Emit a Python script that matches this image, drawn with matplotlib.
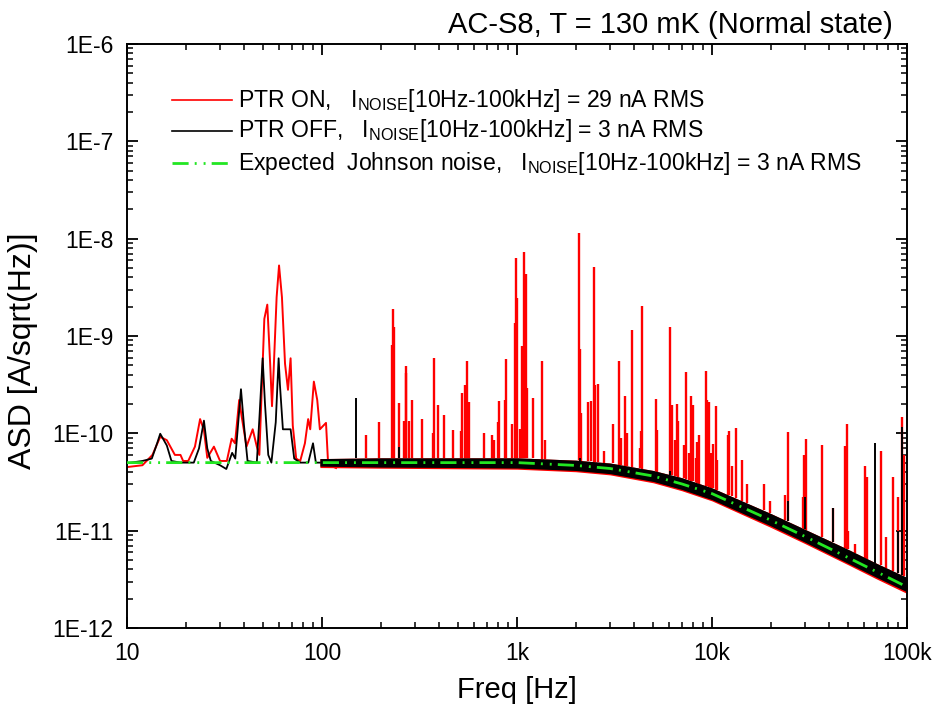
"""
ASD noise spectrum, AC-S8 at 130 mK (normal state): PTR on / off vs expected Johnson noise
"""

import numpy as np
import matplotlib
matplotlib.use("Agg")
import matplotlib.pyplot as plt
from matplotlib.ticker import LogLocator, FuncFormatter, NullFormatter

plt.rcParams["font.family"] = ["Liberation Sans", "DejaVu Sans"]
plt.rcParams["mathtext.fontset"] = "custom"
plt.rcParams["mathtext.rm"] = "Liberation Sans"
plt.rcParams["mathtext.it"] = "Liberation Sans"

# ─── Colours ──────────────────────────────────────────────
RED = "#ff0000"
BLACK = "#000000"
GREEN = "#22e622"

# ─── Data ─────────────────────────────────────────────────

# expected Johnson noise
johnson_f = [10, 100, 1000, 2000, 3000, 5000, 7000, 10000, 20000, 30000, 50000, 70000, 100000]
johnson_asd = [5.0e-11, 5.0e-11, 5.0e-11, 4.68e-11, 4.35e-11, 3.64e-11, 3.02e-11,
               2.4e-11, 1.28e-11, 8.7e-12, 5.27e-12, 3.77e-12, 2.64e-12]

# PTR ON, low frequency part
red_low_f = [10, 12, 13.5, 14.8, 16, 17.6, 18.8, 19.4, 20.6, 22.3, 23.7, 24.8, 25.8, 27.9,
             30, 32.5, 34.4, 35.8, 37.6, 38.7, 41, 44.1, 46.3, 47.7, 50.6, 52.4, 54.2, 55.4,
             56.5, 58.5, 60.2, 62.3, 64.6, 66.9, 69, 70.8, 73.7, 77.3, 81.7, 84.9, 87, 90.8,
             94.5, 97.5, 104.8, 107.5, 118]
red_low_asd = [4.5e-11, 4.7e-11, 6.0e-11, 9.2e-11, 8.5e-11, 6.0e-11, 6.0e-11, 5.2e-11,
               5.2e-11, 7.3e-11, 1.4e-10, 1.08e-10, 5.6e-11, 7.3e-11, 5.2e-11, 5.2e-11,
               8.8e-11, 7.9e-11, 2.2e-10, 1.5e-10, 7.3e-11, 1.1e-10, 7.3e-11, 6.0e-11,
               1.5e-9, 2.1e-9, 5.2e-10, 1.9e-10, 4.5e-10, 2.5e-9, 5.3e-9, 2.5e-9, 5.2e-10,
               2.8e-10, 5.9e-10, 1.2e-10, 5.5e-11, 5.2e-11, 7.9e-11, 1.4e-10, 1.1e-10,
               3.4e-10, 2.2e-10, 1.1e-10, 1.28e-10, 4.8e-11, 4.4e-11]

# PTR OFF, low frequency part
black_low_f = [10, 12, 13.4, 14.3, 14.8, 16.0, 16.9, 18.8, 22.0, 23.4, 24.8, 25.8, 26.9,
               30, 32.3, 34.6, 35.9, 38.4, 39.8, 41.5, 46.3, 47.8, 49.6, 51, 53, 55,
               57.9, 59.9, 60.8, 63, 67.2, 69, 72, 77.3, 85, 89.9, 93, 97.5]
black_low_asd = [4.93e-11, 5.2e-11, 5.5e-11, 8.0e-11, 9.9e-11, 7.5e-11, 5.2e-11, 5.0e-11,
                 5.0e-11, 7.0e-11, 1.35e-10, 7.0e-11, 5.2e-11, 4.7e-11, 4.3e-11, 6.3e-11,
                 5.5e-11, 2.84e-10, 1.2e-10, 5.2e-11, 5.0e-11, 1.5e-10, 5.9e-10, 2.0e-10,
                 6.0e-11, 5.0e-11, 1.3e-10, 5.9e-10, 3.2e-10, 1.1e-10, 1.1e-10, 1.1e-10,
                 5.5e-11, 5.0e-11, 5.0e-11, 7.9e-11, 5.0e-11, 5.0e-11]

# broadband noise envelope above ~100 Hz
band_f = [97.5, 200, 500, 1000, 2000, 3000, 5000, 7000, 10000, 20000, 30000, 50000,
          70000, 100000]
black_hi = [5.5e-11, 5.6e-11, 5.6e-11, 5.6e-11, 5.3e-11, 4.95e-11, 4.15e-11, 3.5e-11,
            2.75e-11, 1.5e-11, 1.03e-11, 6.4e-12, 4.6e-12, 3.3e-12]
black_lo = [4.6e-11, 4.5e-11, 4.45e-11, 4.4e-11, 4.15e-11, 3.85e-11, 3.2e-11, 2.65e-11,
            2.08e-11, 1.12e-11, 7.6e-12, 4.6e-12, 3.3e-12, 2.35e-12]
red_lo = [4.45e-11, 4.38e-11, 4.32e-11, 4.28e-11, 4.03e-11, 3.74e-11, 3.1e-11, 2.57e-11,
          2.02e-11, 1.08e-11, 7.35e-12, 4.45e-12, 3.18e-12, 2.26e-12]

# PTR ON lines above 100 Hz
red_spike_f = [169, 196, 228, 232, 235, 249, 264, 268, 271, 280, 288, 326, 372, 375, 392,
               421, 468, 515, 520, 543, 552, 568, 677, 745, 760, 802, 812, 871, 881, 940,
               972, 988, 1000, 1030, 1057, 1082, 1107, 1126, 1213, 1337, 1395, 2070, 2100,
               2130, 2323, 2388, 2472, 2520, 2616, 2805, 3090, 3320, 3400, 3580, 3650, 3875,
               4250, 4300, 4360, 5160, 5250, 6090, 6210, 6460, 6580, 6700, 7150, 7330, 7640,
               7770, 7950, 8230, 8400, 8600, 9270, 9450, 9630, 9900, 10100, 10450, 10600,
               12030, 12200, 12600, 13200, 14300, 15100, 18400, 19800, 23800, 24400, 29300,
               29600, 30200, 36500, 41600, 48000, 49000, 49900, 54000, 61000, 62400, 73300,
               78000, 85000, 90200, 94600, 97000]
red_spike_asd = [9.6e-11, 1.32e-10, 8.1e-10, 1.9e-9, 1.25e-9, 2.05e-10, 1.34e-10, 4.96e-10,
                 4.2e-10, 1.35e-10, 2.2e-10, 1.41e-10, 1.0e-10, 6.0e-10, 1.96e-10, 1.55e-10,
                 1.08e-10, 1.05e-10, 2.6e-10, 3.1e-10, 5.5e-10, 2.1e-10, 1.0e-10, 9.5e-11,
                 8.5e-11, 1.3e-10, 2.15e-10, 2.2e-10, 5.8e-10, 1.25e-10, 1.35e-9, 6.4e-9,
                 2.46e-9, 1.1e-10, 7.9e-10, 7.3e-9, 4.35e-9, 2.9e-10, 2.3e-10, 5.5e-10,
                 8.5e-11, 1.15e-8, 7.4e-10, 1.62e-10, 2.1e-10, 2.15e-10, 5.1e-9, 3.1e-10,
                 3.2e-10, 6.6e-11, 1.25e-10, 5.5e-10, 9.0e-11, 2.4e-10, 1.0e-10, 1.16e-9,
                 7.0e-11, 1.05e-10, 2.04e-9, 2.26e-10, 1.08e-10, 1.24e-9, 1.96e-10, 8.5e-11,
                 2.0e-10, 1.34e-10, 7.6e-11, 4.28e-10, 6.3e-11, 2.4e-10, 1.96e-10, 5.6e-11,
                 8.2e-11, 9.5e-11, 4.4e-10, 2.2e-10, 2.1e-10, 6.3e-11, 7.8e-11, 1.92e-10,
                 5.3e-11, 9.5e-11, 1.05e-10, 4.6e-11, 1.14e-10, 5.3e-11, 3.0e-11, 3.0e-11,
                 2.0e-11, 2.3e-11, 1.03e-10, 2.2e-11, 6.0e-11, 8.8e-11, 7.6e-11, 1.7e-11,
                 7.4e-11, 1.25e-10, 1.0e-11, 7.3e-12, 4.6e-11, 3.6e-11, 6.6e-11, 8.7e-12,
                 3.6e-11, 2.2e-11, 1.48e-10, 6.0e-11]

# PTR OFF lines above 100 Hz
black_spike_f = [150, 249, 2100, 6090, 24400, 30000, 41700, 68500, 90200, 93800]
black_spike_asd = [2.3e-10, 7.3e-11, 5.6e-11, 4.1e-11, 2.0e-11, 2.2e-11, 1.7e-11,
                   8.0e-11, 1.0e-11, 1.15e-10]


def _foot(freqs):
    """Level where a line leaves the broadband noise (on the log scale)."""
    return 10 ** np.interp(np.log10(freqs), np.log10(band_f), np.log10(black_hi))


def _fmt_x(v, _):
    labels = {10: "10", 100: "100", 1000: "1k", 10000: "10k", 100000: "100k"}
    return labels.get(int(round(v)), "")


def _fmt_y(v, _):
    return f"1E{int(round(np.log10(v)))}"


fig = plt.figure(figsize=(9.5, 7.22), dpi=100)
fig.patch.set_facecolor("white")
ax = fig.add_axes([0.1337, 0.1302, 0.8211, 0.8089])

# PTR ON (red) — bottom layer
ax.fill_between(band_f, red_lo, black_hi, color=RED, linewidth=0, zorder=2)
ax.plot(red_low_f, red_low_asd, color=RED, linewidth=1.4, zorder=2)
ax.vlines(red_spike_f, _foot(red_spike_f), red_spike_asd, color=RED, linewidth=1.7, zorder=2)

# PTR OFF (black)
ax.fill_between(band_f, black_lo, black_hi, color=BLACK, linewidth=0, zorder=3)
ax.plot(black_low_f, black_low_asd, color=BLACK, linewidth=1.3, zorder=3)
ax.vlines(black_spike_f, _foot(black_spike_f), black_spike_asd, color=BLACK,
          linewidth=1.4, zorder=3)

# Johnson noise (green) — top
green_ls = (0, (5.8, 2.2, 0.7, 2.5, 0.7, 2.2))
ax.plot(johnson_f, johnson_asd, color=GREEN, linewidth=2.0, linestyle=green_ls, zorder=4)

# Axes
ax.set_xscale("log")
ax.set_yscale("log")
ax.set_xlim(10, 1e5)
ax.set_ylim(1e-12, 1e-6)

ax.xaxis.set_major_locator(LogLocator(base=10, numticks=10))
ax.xaxis.set_minor_locator(LogLocator(base=10, subs=range(2, 10), numticks=50))
ax.yaxis.set_major_locator(LogLocator(base=10, numticks=10))
ax.yaxis.set_minor_locator(LogLocator(base=10, subs=range(2, 10), numticks=50))
ax.xaxis.set_major_formatter(FuncFormatter(_fmt_x))
ax.yaxis.set_major_formatter(FuncFormatter(_fmt_y))
ax.xaxis.set_minor_formatter(NullFormatter())
ax.yaxis.set_minor_formatter(NullFormatter())

ax.tick_params(which="both", direction="in", top=True, right=True, colors=BLACK)
ax.tick_params(which="major", length=8, width=1.3, labelsize=16.5)
ax.tick_params(which="minor", length=4.5, width=1.1)
ax.tick_params(axis="x", which="major", pad=10)
ax.tick_params(axis="y", which="major", pad=10)
for spine in ax.spines.values():
    spine.set_linewidth(1.4)

ax.set_xlabel("Freq [Hz]", fontsize=21, va="top")
ax.xaxis.set_label_coords(0.5, -0.083)
ax.set_ylabel("ASD [A/sqrt(Hz)]", fontsize=23)
ax.yaxis.set_label_coords(-0.114, 0.474)

# Title
fig.text(0.94, 0.965, "AC-S8, T = 130 mK (Normal state)", ha="right", va="center",
         fontsize=21)

# Legend, drawn by hand
legend_rows = [
    (RED, "-", 1.2, r"PTR ON,   I$_{\mathregular{NOISE}}$[10Hz-100kHz] = 29 nA RMS"),
    (BLACK, "-", 1.2, r"PTR OFF,   I$_{\mathregular{NOISE}}$[10Hz-100kHz] = 3 nA RMS"),
    (GREEN, green_ls, 2.0,
     r"Expected  Johnson noise,   I$_{\mathregular{NOISE}}$[10Hz-100kHz] = 3 nA RMS"),
]
for (color, ls, lw, label), y in zip(legend_rows, [0.904, 0.851, 0.796]):
    ax.plot([0.0577, 0.1346], [y, y], transform=ax.transAxes, color=color,
            linestyle=ls, linewidth=lw, zorder=5)
    ax.text(0.142, y, label, transform=ax.transAxes, ha="left", va="center",
            fontsize=16.6, zorder=5)

fig.savefig("out.png", dpi=100, facecolor="white")
plt.close(fig)
